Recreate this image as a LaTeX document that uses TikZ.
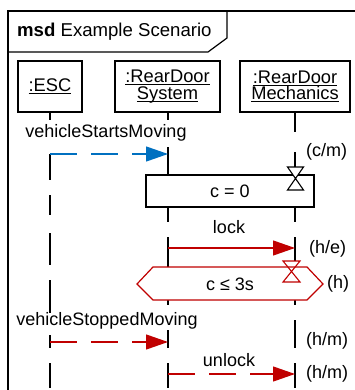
\documentclass[tikz,border=0pt]{standalone}
\usepackage{fontspec}
\setmainfont{Liberation Sans}
\usetikzlibrary{arrows.meta}
\definecolor{msgblue}{HTML}{0070C0}
\definecolor{msgred}{HTML}{C00000}
\newcommand\myul[1]{\setbox0\hbox{#1}\rlap{\rule[-2.6pt]{\wd0}{0.9pt}}\box0}
\tikzset{
  txt/.style={inner sep=0pt, font=\fontsize{18}{17}\selectfont},
  headbox/.style={draw, line width=1.2pt, inner sep=0pt, align=center, font=\fontsize{18.3}{17.5}\selectfont},
  lifeline/.style={line width=1.2pt},
  frameline/.style={line width=1.2pt},
  msgdash/.style={dash pattern=on 27pt off 14pt},
  tipsty/.style={-{Triangle[length=22pt,width=15pt]}},
  hourglass/.style={line width=1.1pt},
}
\begin{document}
\begin{tikzpicture}[x=1pt,y=-1pt]
\useasboundingbox (0,0) rectangle (355,390);
% frame
\draw[frameline] (8,392) -- (8,11) -- (357,11);
\draw[frameline] (8,52) -- (208,52) -- (227,38) -- (227,11);
\node[txt, anchor=west, font=\fontsize{18.6}{18}\selectfont] (title) at (17,32) {\textbf{msd} Example Scenario};
% lifeline heads
\node[headbox, minimum width=64pt, minimum height=51pt] (esc) at (50,86.5) {\myul{:ESC}};
\node[headbox, minimum width=105pt, minimum height=51pt] (sys) at (167.5,86.5) {\myul{:RearDoor}\\[-1pt]\myul{System}};
\node[headbox, minimum width=110pt, minimum height=51pt] (mech) at (295,86.5) {\myul{:RearDoor}\\[-1pt]\myul{Mechanics}};
% lifelines (segmented)
\draw[lifeline] (50,112) -- (50,120) (50,154) -- (50,180) (50,195) -- (50,215)
  (50,233) -- (50,265) (50,280) -- (50,313) (50,335) -- (50,348) (50,363) -- (50,388);
\draw[lifeline] (168,112) -- (168,120) (168,147) -- (168,175) (168,207) -- (168,222)
  (168,237) -- (168,267) (168,300) -- (168,305) (168,330) -- (168,348) (168,363) -- (168,388);
\draw[lifeline] (295,112) -- (295,132) (295,152) -- (295,168) (295,207) -- (295,222)
  (295,237) -- (295,261) (295,300) -- (295,305) (295,320) -- (295,348) (295,363) -- (295,388);
% message coordinates
\coordinate (e1) at (50,154); \coordinate (s1) at (168,154);
\coordinate (s2) at (168,248); \coordinate (m2) at (295,248);
\coordinate (e3) at (50,342); \coordinate (s3) at (168,342);
\coordinate (s4) at (168,374); \coordinate (m4) at (295,374);
% vehicleStartsMoving
\node[txt] (l1) at (106,133) {vehicleStartsMoving};
\draw[msgblue, line width=1.2pt, msgdash, tipsty] (e1) -- (s1);
% condition box c = 0
\node[draw, line width=1.2pt, minimum width=168pt, minimum height=32pt, inner sep=0pt, fill=white] (cond) at (230,191) {};
\node[txt] (condtxt) at (230,191) {c = 0};
\draw[hourglass, fill=white] (287.5,167) -- (303.5,167) -- (287.5,190) -- (303.5,190) -- cycle;
\node[txt, anchor=west] (cm) at (306,152) {(c/m)};
% lock
\node[txt] (l2) at (229,227) {lock};
\draw[msgred, line width=1.2pt, tipsty] (s2) -- (m2);
\node[txt, anchor=west] (he) at (309,249) {(h/e)};
% hexagon c <= 3s
\draw[msgred, line width=1.2pt, fill=white] (137,284) -- (153,267) -- (307,267) -- (323,284) -- (307,300) -- (153,300) -- cycle;
\node[txt] (hextxt) at (230,284) {c ≤ 3s};
\draw[msgred, hourglass] (283,261) -- (300,261) -- (283,282) -- (300,282) -- cycle;
\node[txt, anchor=west] (h1) at (327,284) {(h)};
% vehicleStoppedMoving
\node[txt] (l3) at (107,321) {vehicleStoppedMoving};
\draw[msgred, line width=1.2pt, msgdash, tipsty] (e3) -- (s3);
\node[txt, anchor=west] (hm1) at (306,341) {(h/m)};
% unlock
\node[txt] (l4) at (229,360) {unlock};
\draw[msgred, line width=1.2pt, msgdash, tipsty] (s4) -- (m4);
\node[txt, anchor=west] (hm2) at (306,374) {(h/m)};
\end{tikzpicture}
\end{document}
